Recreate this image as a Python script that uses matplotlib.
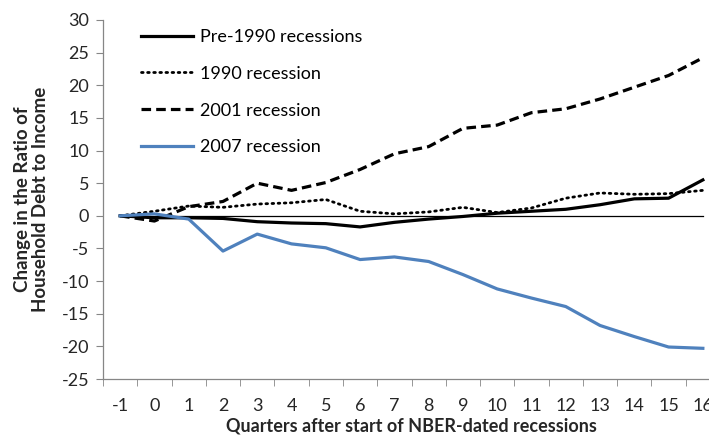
import numpy as np
import matplotlib
matplotlib.use("Agg")
from matplotlib import pyplot as plt

quarters = list(range(-1, 17))
tick_labels = [str(q) for q in quarters]

pre_1990 = [0.0, -0.3, -0.3, -0.4, -0.9, -1.1, -1.2, -1.7, -1.0, -0.5, -0.1,
            0.4, 0.7, 1.0, 1.7, 2.6, 2.7, 5.5]
rec_1990 = [0.0, 0.7, 1.5, 1.3, 1.8, 2.0, 2.5, 0.7, 0.3, 0.6, 1.3, 0.5,
            1.2, 2.7, 3.5, 3.3, 3.4, 3.9]
rec_2001 = [0.0, -0.8, 1.4, 2.2, 5.0, 3.9, 5.1, 7.1, 9.5, 10.6, 13.4, 13.9,
            15.8, 16.4, 17.9, 19.7, 21.5, 24.2]
rec_2007 = [0.0, 0.3, -0.5, -5.4, -2.8, -4.3, -4.9, -6.7, -6.3, -7.0, -9.0,
            -11.2, -12.6, -13.9, -16.8, -18.5, -20.1, -20.3]
zero_line = [0.0] * len(quarters)

series_labels = ["Pre-1990 recessions", "1990 recession", "2001 recession", "2007 recession"]

plt.rcParams['font.family'] = ['Lato', 'DejaVu Sans']
plt.rcParams['axes.unicode_minus'] = False

fig = plt.figure(figsize=(7.09, 4.36), dpi=100)
# axis runs past the right edge, as in the cropped original
ax = fig.add_axes([103 / 709, 57 / 436, 617 / 709, 359 / 436])

ax.plot(quarters, zero_line, color='black', linewidth=0.9, zorder=1)
ax.plot(quarters, pre_1990, color='black', linewidth=2.3, label=series_labels[0],
        solid_joinstyle='round')
ax.plot(quarters, rec_1990, color='black', linewidth=2.0, linestyle=(0, (0.6, 1.6)),
        dash_capstyle='round', label=series_labels[1])
ax.plot(quarters, rec_2001, color='black', linewidth=2.3, linestyle=(0, (3, 1.6)),
        label=series_labels[2])
ax.plot(quarters, rec_2007, color='#4F81BD', linewidth=2.3, label=series_labels[3],
        solid_joinstyle='round')

ax.set_xlim(-1.5, 16.5)
ax.set_ylim(-25, 30)
ax.set_yticks(np.arange(-25, 31, 5))
ax.set_xticks(quarters)
ax.set_xticklabels(tick_labels)
ax.set_xticks(np.arange(-1.5, 16.6, 1), minor=True)
ax.tick_params(axis='x', which='major', length=0, pad=14, labelsize=13, colors='#262626')
ax.tick_params(axis='x', which='minor', length=5, direction='out', color='#868686')
ax.tick_params(axis='y', length=5, direction='out', color='#868686', labelsize=13,
               labelcolor='#262626', pad=5)

for side in ['top', 'right']:
    ax.spines[side].set_visible(False)
for side in ['left', 'bottom']:
    ax.spines[side].set_color('#868686')
    ax.spines[side].set_linewidth(0.9)

ax.set_xlabel("Quarters after start of NBER-dated recessions", fontweight='bold',
              fontsize=13, labelpad=2, color='#262626')
ax.set_ylabel("Change in the Ratio of\nHousehold Debt to Income", fontweight='bold',
              fontsize=13.5, labelpad=9, color='#262626', linespacing=1.05)

ax.legend(loc='upper left', bbox_to_anchor=(0.05, 0.995), frameon=False, fontsize=13,
          handlelength=2.9, handletextpad=0.35, labelspacing=1.15, borderaxespad=0)

plt.savefig("out.png", dpi=100)
plt.close()
